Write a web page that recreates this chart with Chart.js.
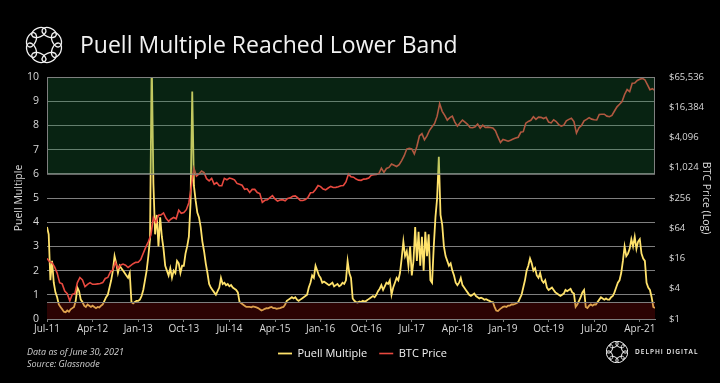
<!DOCTYPE html>
<html>
<head>
<meta charset="utf-8">
<script src="https://cdn.jsdelivr.net/npm/chart.js@4.4.1/dist/chart.umd.min.js"></script>
<style>
  html, body { margin: 0; padding: 0; background: #000; }
  #wrap { width: 720px; height: 383px; position: relative; }
</style>
</head>
<body>
<div id="wrap"><canvas id="c" width="720" height="383"></canvas></div>
<script>
// ---------- DATA ----------
const chartTitle = 'Puell Multiple Reached Lower Band';
const xTickMonths = [0, 9, 18, 27, 36, 45, 54, 63, 72, 81, 90, 99, 108, 117]; // months since Jul-2011
const xTickLabels = ['Jul-11','Apr-12','Jan-13','Oct-13','Jul-14','Apr-15','Jan-16','Oct-16','Jul-17','Apr-18','Jan-19','Oct-19','Jul-20','Apr-21'];
const priceTicks = [1, 4, 16, 64, 256, 1024, 4096, 16384, 65536];
const upperBand = [6, 10];
const lowerBand = [0, 0.7];

// Puell Multiple, three readings per month, Jul-2011 .. Jun-2021 (+ final)
const puellStepMonths = 1 / 3;
const puell = [
  3.8, 3.5, 1.6,   2.4, 1.5, 1.1,   0.9, 0.6, 0.5,   0.4, 0.3, 0.28,  0.35, 0.3, 0.4,   0.45, 0.5, 0.75,
  1.3, 1.15, 0.8,  0.7, 0.55, 0.5,  0.6, 0.55, 0.5,  0.55, 0.5, 0.45, 0.5, 0.48, 0.55, 0.6, 0.75, 0.9,
  1.0, 1.3, 1.6,   2.0, 2.6, 2.3,   1.9, 2.2, 2.1,   2.0, 1.9, 1.8,   1.7, 1.9, 0.7,   0.65, 0.7, 0.75,
  0.75, 0.8, 0.95, 1.2, 1.6, 2.0,   2.6, 3.3, 10.8,  5.6, 3.5, 4.3,   3.0, 4.2, 3.4,   2.9, 2.2, 2.0,
  1.8, 2.1, 1.7,   2.0, 1.9, 2.4,   2.3, 1.9, 2.2,   2.2, 2.7, 3.0,   3.4, 4.8, 9.4,   5.5, 4.9, 4.4,
  4.2, 3.8, 3.2,   2.8, 2.3, 1.9,   1.45, 1.3, 1.2,  1.1, 1.0, 1.15,  1.3, 1.7, 1.45,  1.5, 1.4, 1.45,
  1.35, 1.4, 1.3,  1.25, 1.2, 1.1,  0.7, 0.65, 0.6,  0.55, 0.5, 0.5,  0.5, 0.48, 0.52, 0.5, 0.48, 0.45,
  0.4, 0.35, 0.38, 0.42, 0.45, 0.44, 0.48, 0.5, 0.45, 0.45, 0.42, 0.44, 0.45, 0.48, 0.5, 0.6, 0.75, 0.8,
  0.85, 0.9, 0.85, 0.9, 0.8, 0.75,  0.8, 0.85, 0.9,  0.95, 1.0, 1.3,  1.5, 1.8, 1.7,   2.2, 2.0, 1.8,
  1.7, 1.5, 1.55,  1.5, 1.45, 1.4,  1.45, 1.5, 1.35, 1.4, 1.45, 1.35, 1.4, 1.5, 1.45,  1.6, 2.4, 1.9,
  1.7, 0.85, 0.75, 0.7, 0.68, 0.72, 0.7, 0.75, 0.72, 0.75, 0.8, 0.85, 0.9, 0.95, 0.9,  1.0, 1.15, 1.25,
  1.4, 1.2, 1.35,  1.5, 1.45, 1.6,  1.0, 1.3, 1.5,   1.7, 1.6, 1.9,   2.5, 3.2, 2.6,   2.8, 2.2, 3.0,
  1.8, 2.4, 3.8,   2.4, 3.6, 2.2,   3.4, 2.0, 3.6,   2.6, 3.5, 1.6,   1.5, 3.0, 4.2,   5.0, 6.7, 4.3,
  3.9, 3.0, 2.6,   2.4, 2.2, 2.3,   2.0, 1.8, 1.5,   1.4, 1.5, 1.7,   1.4, 1.3, 1.2,   1.1, 1.0, 0.95,
  1.0, 1.05, 0.95, 0.9, 0.85, 0.88, 0.85, 0.8, 0.82, 0.78, 0.75, 0.7, 0.7, 0.5, 0.35,  0.33, 0.4, 0.45,
  0.5, 0.52, 0.5,  0.55, 0.55, 0.6, 0.6, 0.62, 0.65, 0.7, 0.85, 1.0,  1.3, 1.6, 2.0,   2.2, 2.5, 2.3,
  2.0, 2.1, 1.8,   1.7, 1.9, 1.6,   1.5, 1.6, 1.3,   1.2, 1.25, 1.3,  1.2, 1.1, 1.05,  1.0, 0.95, 1.0,
  1.05, 1.2, 1.15, 1.2, 1.25, 1.1,  1.05, 0.5, 0.6,  0.75, 0.9, 1.1,  1.2, 0.5, 0.45,  0.55, 0.6, 0.55,
  0.6, 0.6, 0.7,   0.8, 0.9, 0.85,  0.8, 0.85, 0.8,  0.8, 0.9, 0.95,  1.1, 1.3, 1.5,   1.6, 1.9, 2.4,
  3.0, 2.6, 2.7,   2.9, 3.3, 3.0,   3.4, 2.9, 3.2,   3.3, 2.7, 2.5,   2.4, 1.5, 1.3,   1.2, 0.9, 0.5,
  0.45
];

// BTC price (USD), two readings per month, Jul-2011 .. Jun-2021 (+ final)
const priceStepMonths = 1 / 2;
const btcPrice = [
  16.1, 13.8, 13.1, 10.9, 8.2, 5.3, 5.0, 3.6, 3.2, 2.3, 3.1, 3.2,
  5.3, 6.7, 6.0, 4.4, 4.9, 5.3, 4.9, 4.9, 5.0, 5.1, 5.3, 6.4, 6.7, 8.6, 9.5, 13.5, 10.2, 11.8, 12.4, 11.8, 10.6, 11.6, 12.6, 13.4,
  13.5, 15.2, 20.4, 27.0, 34.5, 47, 104, 83, 116, 118, 129, 101, 88, 98, 105, 99, 146, 127, 132, 150, 206, 440, 1000, 700,
  770, 880, 820, 620, 560, 630, 480, 520, 450, 450, 630, 590, 640, 620, 590, 500, 480, 460, 380, 390, 330, 380, 380, 330,
  315, 210, 230, 235, 260, 285, 245, 222, 233, 237, 225, 250, 258, 277, 282, 258, 228, 229, 238, 262, 325, 330, 378, 455,
  432, 385, 372, 405, 435, 415, 417, 430, 450, 455, 535, 765, 675, 665, 610, 580, 575, 608, 615, 640, 730, 745, 755, 785,
  1000, 830, 990, 1040, 1220, 1150, 1085, 1180, 1420, 1780, 2410, 2500, 2430, 1930, 2720, 4380, 4890, 3680, 4400, 5700, 6700, 7800, 10900, 19300,
  13600, 11300, 9100, 10200, 10900, 8300, 6900, 8000, 9100, 8300, 7500, 6500, 6400, 6700, 7600, 6300, 7200, 6500, 6600, 6500, 6350, 5600, 4200, 3250,
  3750, 3600, 3450, 3620, 3830, 4000, 4150, 5200, 5350, 7900, 8550, 9000, 10600, 9400, 10400, 10300, 9750, 10300, 8300, 8000, 9200, 8500, 7400, 6900,
  7200, 8800, 9400, 9900, 8500, 5000, 6400, 7100, 8800, 9400, 10200, 9500, 9230, 9130, 11800, 11900, 11900, 10900, 10600, 11300, 13800, 16700, 18800, 21300,
  29400, 36800, 33500, 49200, 49600, 56000, 58900, 61500, 57800, 46400, 36700, 38300,
  35000
];

// ---------- STYLE ----------
const yellow = '#FFE26B';
const red = '#E8493F';
const textCol = '#D9D9D9';
const gridCol = '#7F7F7F';
const fontFam = '"Open Sans", "DejaVu Sans", sans-serif';

const puellPoints = puell.map((v, i) => ({ x: i * puellStepMonths, y: v }));
const pricePoints = btcPrice.map((v, i) => ({ x: i * priceStepMonths, y: v }));

const bandsPlugin = {
  id: 'bands',
  afterDatasetsDraw(chart) {
    const { ctx, chartArea: a, scales } = chart;
    const y = scales.y;
    ctx.save();
    const gTop = y.getPixelForValue(upperBand[1]);
    const gBot = y.getPixelForValue(upperBand[0]);
    ctx.fillStyle = 'rgba(30,130,65,0.27)';
    ctx.fillRect(a.left, gTop, a.right - a.left, gBot - gTop);
    ctx.strokeStyle = gridCol;
    ctx.lineWidth = 1;
    ctx.strokeRect(a.left + 0.5, gTop + 0.5, a.right - a.left - 1, gBot - gTop);
    const rTop = y.getPixelForValue(lowerBand[1]);
    const rBot = y.getPixelForValue(lowerBand[0]);
    ctx.fillStyle = 'rgba(145,10,10,0.3)';
    ctx.fillRect(a.left, rTop, a.right - a.left, rBot - rTop);
    ctx.strokeStyle = gridCol;
    ctx.beginPath();
    ctx.moveTo(a.left, Math.round(rTop) + 0.5);
    ctx.lineTo(a.right, Math.round(rTop) + 0.5);
    ctx.stroke();
    ctx.restore();
  }
};

function drawRingLogo(ctx, cx, cy, R, rx, ry, lw) {
  ctx.save();
  ctx.strokeStyle = '#F2F2F2';
  ctx.lineWidth = lw;
  for (let k = 0; k < 8; k++) {
    const ang = k * Math.PI / 4 + Math.PI / 8;
    const px = cx + R * Math.cos(ang);
    const py = cy + R * Math.sin(ang);
    ctx.beginPath();
    ctx.ellipse(px, py, rx, ry, ang + Math.PI / 2, 0, Math.PI * 2);
    ctx.stroke();
  }
  ctx.restore();
}

const decorPlugin = {
  id: 'decor',
  afterDraw(chart) {
    const ctx = chart.ctx;
    ctx.save();
    ctx.fillStyle = '#F2F2F2';
    ctx.font = '400 23px ' + fontFam;
    ctx.textBaseline = 'middle';
    ctx.textAlign = 'left';
    ctx.fillText(chartTitle, 80, 46);
    drawRingLogo(ctx, 44, 45, 13.5, 7.5, 4.5, 1.3);
    ctx.fillStyle = '#D0D0D0';
    ctx.font = 'italic 9px ' + fontFam;
    ctx.fillText('Data as of June 30, 2021', 27, 352);
    ctx.fillText('Source: Glassnode', 27, 364);
    drawRingLogo(ctx, 617, 352, 8, 4.5, 2.7, 1);
    ctx.fillStyle = '#F2F2F2';
    ctx.font = '600 6.5px ' + fontFam;
    if ('letterSpacing' in ctx) ctx.letterSpacing = '1px';
    ctx.fillText('DELPHI DIGITAL', 635, 352);
    ctx.restore();
  }
};

function monthLabel(v) {
  const i = xTickMonths.indexOf(Math.round(v));
  return i >= 0 ? xTickLabels[i] : '';
}

new Chart(document.getElementById('c'), {
  type: 'line',
  data: {
    datasets: [
      { label: 'Puell Multiple', data: puellPoints, yAxisID: 'y', borderColor: yellow, backgroundColor: yellow,
        borderWidth: 1.8, pointRadius: 0, tension: 0, order: 1 },
      { label: 'BTC Price', data: pricePoints, yAxisID: 'y2', borderColor: red, backgroundColor: red,
        borderWidth: 1.6, pointRadius: 0, tension: 0, order: 0 }
    ]
  },
  options: {
    responsive: false,
    animation: false,
    layout: { padding: { top: 77, left: 13, right: 8, bottom: 14 } },
    plugins: {
      legend: {
        position: 'bottom',
        labels: {
          color: '#F2F2F2',
          font: { family: fontFam, size: 11 },
          usePointStyle: true,
          pointStyle: 'line',
          pointStyleWidth: 14,
          boxHeight: 10,
          padding: 12,
          sort: (a, b) => a.datasetIndex - b.datasetIndex
        }
      },
      tooltip: { enabled: false }
    },
    scales: {
      x: {
        type: 'linear',
        min: 0,
        max: 120,
        afterBuildTicks: (s) => { s.ticks = xTickMonths.map(v => ({ value: v })); },
        afterFit: (s) => { s.height = 17; },
        ticks: { color: textCol, font: { family: fontFam, size: 10 }, maxRotation: 0, autoSkip: false,
                 padding: 1, callback: (v) => monthLabel(v) },
        grid: { display: true, drawOnChartArea: false, drawTicks: true, tickLength: 3, color: gridCol },
        border: { display: true, color: gridCol }
      },
      y: {
        position: 'left',
        min: 0,
        max: 10,
        afterFit: (s) => { s.width = 34; },
        ticks: { stepSize: 1, color: textCol, font: { family: fontFam, size: 10.5 }, padding: 8 },
        grid: { color: gridCol, lineWidth: 1, drawTicks: false },
        border: { display: false },
        title: { display: true, text: 'Puell Multiple', color: textCol, font: { family: fontFam, size: 10.5 }, padding: 0 }
      },
      y2: {
        type: 'logarithmic',
        position: 'right',
        min: 1,
        max: 65536,
        afterBuildTicks: (s) => { s.ticks = priceTicks.map(v => ({ value: v })); },
        afterFit: (s) => { s.width = 57; },
        ticks: { color: textCol, font: { family: fontFam, size: 9.5 }, padding: 6,
                 callback: (v) => '$' + Number(v).toLocaleString('en-US') },
        grid: { display: false, drawOnChartArea: false },
        border: { display: false },
        title: { display: true, text: 'BTC Price (Log)', color: textCol, font: { family: fontFam, size: 10.5 }, padding: 0 }
      }
    }
  },
  plugins: [bandsPlugin, decorPlugin]
});
</script>
</body>
</html>
